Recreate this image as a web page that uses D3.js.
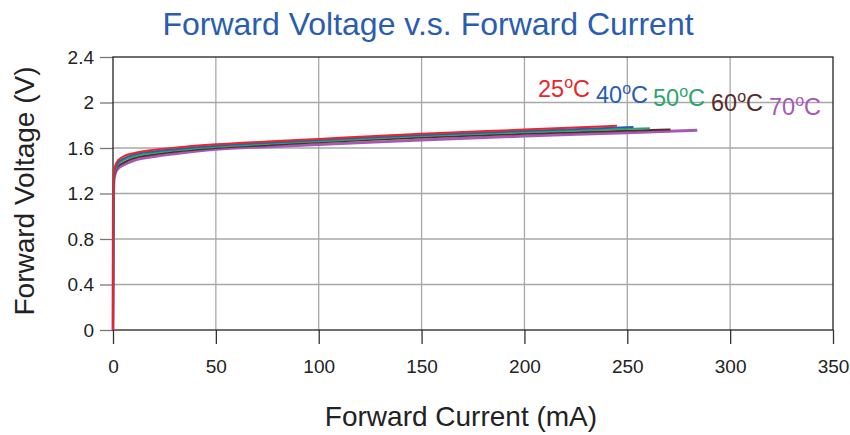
<!DOCTYPE html>
<html>
<head>
<meta charset="utf-8">
<script src="https://cdn.jsdelivr.net/npm/d3@7"></script>
<style>
  html, body { margin: 0; padding: 0; background: #fff; }
  svg { display: block; font-family: "Liberation Sans", Arial, sans-serif; }
</style>
</head>
<body>
<svg id="chart" width="850" height="435"></svg>
<script>
// ---- data ----
const xTicks = [0, 50, 100, 150, 200, 250, 300, 350];
const yTicks = [0, 0.4, 0.8, 1.2, 1.6, 2.0, 2.4];
const yTickLabels = ["0", "0.4", "0.8", "1.2", "1.6", "2", "2.4"];
const seriesNames = ["25", "40", "50", "60", "70"];
const seriesColors = ["#e8262b", "#2a5db0", "#2ba56e", "#5a2a2a", "#a55ab4"];

const current25 = [0, 0.2, 0.5, 1, 2, 5, 10, 20, 30, 50, 75, 100, 150, 200, 245];
const voltage25 = [0, 1.20, 1.40, 1.44, 1.48, 1.525, 1.555, 1.585, 1.603, 1.632, 1.657, 1.68, 1.725, 1.762, 1.796];
const current40 = [0, 0.2, 0.5, 1, 2, 5, 10, 20, 30, 50, 75, 100, 150, 200, 253];
const voltage40 = [0, 1.18, 1.38, 1.42, 1.46, 1.505, 1.54, 1.57, 1.59, 1.62, 1.647, 1.67, 1.715, 1.75, 1.785];
const current50 = [0, 0.2, 0.5, 1, 2, 5, 10, 20, 30, 50, 75, 100, 150, 200, 261];
const voltage50 = [0, 1.15, 1.36, 1.40, 1.445, 1.49, 1.525, 1.558, 1.58, 1.61, 1.637, 1.66, 1.705, 1.738, 1.774];
const current60 = [0, 0.2, 0.5, 1, 2, 5, 10, 20, 30, 50, 75, 100, 150, 200, 271];
const voltage60 = [0, 1.13, 1.34, 1.385, 1.43, 1.47, 1.51, 1.543, 1.567, 1.60, 1.625, 1.65, 1.692, 1.725, 1.762];
const current70 = [0, 0.2, 0.5, 1, 2, 5, 10, 20, 30, 50, 75, 100, 150, 200, 250, 284];
const voltage70 = [0, 1.10, 1.32, 1.37, 1.41, 1.45, 1.49, 1.525, 1.55, 1.59, 1.612, 1.63, 1.67, 1.705, 1.735, 1.757];

const currents = [current25, current40, current50, current60, current70];
const voltages = [voltage25, voltage40, voltage50, voltage60, voltage70];

// ---- layout ----
const svg = d3.select("#chart");
const L = 113, R = 833, T = 57, B = 330;
const x = d3.scaleLinear().domain([0, 350]).range([L, R]);
const y = d3.scaleLinear().domain([0, 2.4]).range([B, T]);

// title
svg.append("text")
  .attr("x", 428).attr("y", 35)
  .attr("text-anchor", "middle")
  .attr("font-size", 32)
  .attr("fill", "#2a5db0")
  .text("Forward Voltage v.s. Forward Current");

// grid
const grid = svg.append("g");
grid.selectAll("line.h").data(yTicks.slice(1, -1)).join("line")
  .attr("x1", L).attr("x2", R)
  .attr("y1", d => y(d)).attr("y2", d => y(d))
  .attr("stroke", "#a8a8a8").attr("stroke-width", 1.3);
grid.selectAll("line.v").data(xTicks.slice(1, -1)).join("line")
  .attr("x1", d => x(d)).attr("x2", d => x(d))
  .attr("y1", T).attr("y2", B)
  .attr("stroke", "#a8a8a8").attr("stroke-width", 1.3);

// axes
const yAxis = d3.axisLeft(y).tickValues(yTicks).tickSize(13).tickPadding(6)
  .tickFormat((d, i) => yTickLabels[i]);
const gy = svg.append("g").attr("transform", `translate(${L},0)`).call(yAxis);
gy.select(".domain").remove();
gy.selectAll(".tick line").attr("stroke", "#777").attr("stroke-width", 1.3);
gy.selectAll(".tick text").attr("font-size", 19).attr("fill", "#222")
  .attr("font-family", "Liberation Sans, Arial, sans-serif");

const xAxis = d3.axisBottom(x).tickValues(xTicks).tickSize(14).tickPadding(16);
const gx = svg.append("g").attr("transform", `translate(0,${B})`).call(xAxis);
gx.select(".domain").remove();
gx.selectAll(".tick line").attr("stroke", "#333").attr("stroke-width", 1.3);
gx.selectAll(".tick text").attr("font-size", 19).attr("fill", "#222")
  .attr("font-family", "Liberation Sans, Arial, sans-serif");

// frame
svg.append("rect")
  .attr("x", L).attr("y", T).attr("width", R - L).attr("height", B - T)
  .attr("fill", "none").attr("stroke", "#222").attr("stroke-width", 1.3);

// axis titles
svg.append("text")
  .attr("x", 461).attr("y", 426)
  .attr("text-anchor", "middle").attr("font-size", 28).attr("fill", "#222")
  .text("Forward Current (mA)");
svg.append("text")
  .attr("transform", "translate(34,191) rotate(-90)")
  .attr("text-anchor", "middle").attr("font-size", 28).attr("fill", "#222")
  .text("Forward Voltage (V)");

// curves
const line = d3.line().x(d => x(d[0])).y(d => y(d[1])).curve(d3.curveMonotoneX);
const curves = svg.append("g");
[4, 3, 2, 1, 0].forEach(i => {
  const pts = currents[i].map((c, k) => [c, voltages[i][k]]);
  curves.append("path")
    .datum(pts)
    .attr("d", line)
    .attr("fill", "none")
    .attr("stroke", seriesColors[i])
    .attr("stroke-width", i === 4 ? 3 : 2)
    .attr("stroke-linejoin", "round");
});

// legend labels
const labelX = [538, 596, 653, 711, 769];
const labelY = [97, 103, 106, 111, 115];
seriesNames.forEach((n, i) => {
  const t = svg.append("text")
    .attr("x", labelX[i]).attr("y", labelY[i])
    .attr("font-size", 23.5).attr("fill", seriesColors[i]);
  t.append("tspan").text(n);
  t.append("tspan").attr("font-size", 16).attr("dy", -9).text("o");
  t.append("tspan").attr("dy", 9).text("C");
});
</script>
</body>
</html>
